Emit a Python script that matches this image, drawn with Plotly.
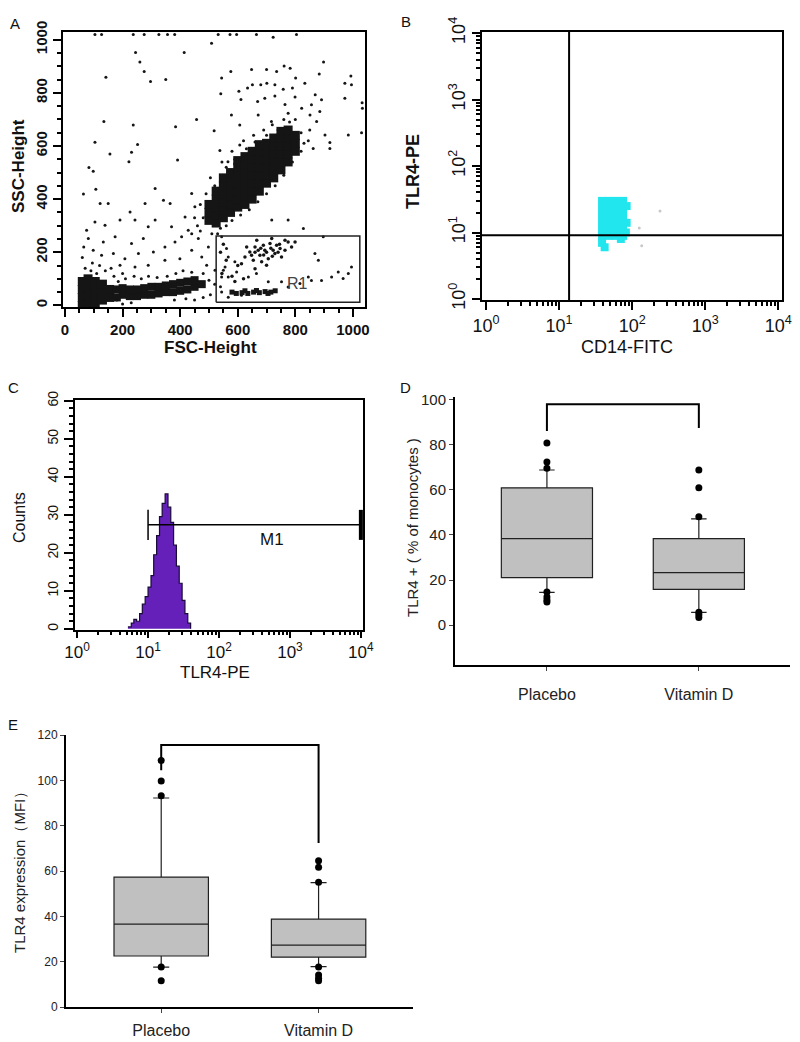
import plotly.graph_objects as go

W, H = 800, 1042
def fx(p): return p / W
def fy(p): return 1 - p / H

FONT = "Liberation Sans, Arial, sans-serif"

# ---------------- Panel A data (FSC-Height, SSC-Height) ----------------
gran_core_fsc = [500,500,500, 525,525,525,525,525, 550,550,550,550,550,550,
                 575,575,575,575,575,575, 600,600,600,600,600,600,600,
                 625,625,625,625,625,625,625, 650,650,650,650,650,650,650,
                 675,675,675,675,675,675,675, 700,700,700,700,700,700,
                 725,725,725,725,725,725, 750,750,750,750,750,750,
                 775,775,775,775,775, 800,800,800]
gran_core_ssc = [320,350,380, 310,340,370,400,430, 330,360,390,420,450,480,
                 350,380,410,440,470,500, 370,400,430,460,490,520,545,
                 380,410,440,470,500,530,560, 400,430,460,490,520,550,580,
                 430,460,490,520,550,580,605, 460,490,520,550,580,610,
                 480,510,540,570,600,630, 510,540,570,600,630,655,
                 540,570,600,630,660, 580,610,640]

debris_core_fsc = [60,60,60,60, 80,80,80,80, 105,105,105,105, 130,130,130, 155,155]
debris_core_ssc = [0,30,60,90, 10,40,70,100, 0,30,60,90, 20,50,80, 30,60]

band_core_fsc = [200,200,225,225,250,250,275,275,300,300,325,325,350,350,
                 375,375,400,400,425,425,450,450,475,180,180]
band_core_ssc = [40,65,35,60,35,60,40,65,40,70,45,70,50,75,
                 50,80,55,85,60,90,70,95,80,30,60]

r1_line_fsc = [595,615,635,655,675,695,715,730,625,665,705,580]
r1_line_ssc = [45,48,45,50,48,52,50,55,55,56,45,50]

mono_fsc = [625,642,660,677,694,712,729,747,764,775,683,654,706,613,752,787,718,666,
            689,648,735,799,700,631,671,723,660,764,700,690,715,740,680,660,720,745,
            540,550,560,545,580,600,590,620]
mono_ssc = [182,201,220,189,208,233,195,214,208,239,164,170,176,157,182,220,252,245,
            226,189,226,239,151,220,208,208,138,245,200,190,215,200,215,200,185,230,
            200,230,170,120,110,150,90,100]

sparse_fsc = [723,509,245,414,260,275,142,297,350,544,576,648,700,735,761,782,801,898,883,993,
              972,995,541,604,634,651,680,701,729,758,790,833,869,891,972,1032,1033,1030,135,237,
              384,457,518,611,669,694,729,764,799,822,856,885,578,607,671,717,775,851,874,903,
              984,920,862,920,104,156,231,252,222,83,98,391,538,607,566,608,
              104,127,237,275,326,356,381,532,573,596,665,804,
              64,107,122,150,104,139,75,191,226,243,278,313,342,365,313,289,272,231,174,133,
              81,98,127,168,208,255,307,347,382,405,370,417,440,451,428,463,440,475,498,399,
              347,289,243,191,492,521,544,556,596,637,665,706,752,775,816,856,891,926,949,984,
              995,966,845,828,868,880,897,775,718,544,561,567,590,544,567,613,567,550,
              470,480,460,510,540,490,520,560,590,630,660,700,740,780,820,830,820,790,760,730,
              700,670,640,610,580,560,530,845,850,800,760,720,690,655,620,580,545,505,470,450,440,
              170,185,160,200,140,120,95,70,60,65,180,170,210,240,265,290,320,355,385,410,
              440,480,500,520,540,505,480,450,420,380,230,200,110,90]
sparse_ssc = [1009,987,952,952,916,880,859,843,850,856,880,888,888,880,901,893,856,916,871,863,
              836,830,797,806,818,830,830,836,830,814,818,836,793,774,780,763,742,650,692,679,
              672,700,657,775,767,780,788,756,784,742,755,730,717,679,717,692,723,717,692,641,
              641,613,591,591,614,570,576,606,541,519,505,547,583,604,541,551,
              1020,1020,1020,1020,1020,1020,1020,1020,1020,1020,1020,1020,
              419,437,384,384,314,302,283,321,352,321,384,440,396,384,321,296,252,233,258,239,
              252,208,189,195,176,195,201,220,239,258,296,333,421,371,283,252,208,182,220,176,
              170,151,145,151,151,132,107,145,126,107,120,89,89,69,82,94,94,107,126,120,
              145,101,107,289,195,170,258,321,321,258,214,182,164,50,31,38,107,132,
              280,330,300,270,290,420,450,520,550,590,615,640,660,690,650,610,580,540,490,450,
              420,390,360,340,320,300,270,620,660,700,700,680,660,640,620,580,540,480,380,330,270,
              110,90,140,120,130,150,160,140,180,220,20,60,100,110,100,110,105,110,120,130,
              125,120,95,80,70,40,30,20,25,20,10,5,120,130]

r1_gate_fsc = [525, 1024]
r1_gate_ssc = [12, 261]
a_ticks = [0, 200, 400, 600, 800, 1000]

# ---------------- Panel B data (CD14-FITC vs TLR4-PE) ----------------
b_cd14 = [38.7,48.2,60.1,75.0, 38.7,48.2,60.1,75.0, 38.7,48.2,60.1,75.0,
          38.7,48.2,60.1,75.0, 38.7,48.2,60.1,75.0, 38.7,48.2,60.1,75.0,
          38.7,42.0,84.0,84.0,82.0,70.0]
b_tlr4 = [29.9,29.9,29.9,29.9, 23.4,23.4,23.4,23.4, 18.4,18.4,18.4,18.4,
          14.4,14.4,14.4,14.4, 11.3,11.3,11.3,11.3, 8.9,8.9,8.9,8.9,
          7.0,6.0,25.0,14.0,10.0,8.0]
b_faint_cd14 = [240, 125, 135]
b_faint_tlr4 = [21, 11.7, 6.3]
quad_cd14 = 13.7
quad_tlr4 = 9.1
decade_vals = [1, 10, 100, 1000, 10000]
decade_text = ["10<sup>0</sup>", "10<sup>1</sup>", "10<sup>2</sup>", "10<sup>3</sup>", "10<sup>4</sup>"]
minor_log = [m * d for d in [1, 10, 100, 1000] for m in range(2, 10)]

# ---------------- Panel C data (histogram) ----------------
hist_tlr4 = [5.2, 5.8, 6.3, 6.9, 7.6, 8.3, 9.1, 10.0, 11.0, 12.0, 13.2, 14.5,
             15.8, 17.4, 19.1, 20.9, 22.9, 25.1, 27.5, 30.2, 33.1, 36.3, 39.8]
hist_counts = [0.5, 1.5, 2.5, 2.0, 4.0, 6.5, 8.5, 11, 14, 19.5, 24.5, 29.5,
               33, 35.5, 32, 28, 22, 16.5, 12, 7.5, 4, 1.5, 0]
m1_range = [10, 10000]
m1_level = 27.4
m1_tick = [23.4, 31.3]

# ---------------- Panel D / E data (box plots) ----------------
groups = ["Placebo", "Vitamin D"]
d_q1 = [21.1, 15.9]
d_median = [38.3, 23.3]
d_q3 = [60.8, 38.3]
d_low = [14.5, 5.7]
d_high = [68.7, 47.1]
d_out_group = ["Placebo"]*7 + ["Vitamin D"]*6
d_out_vals = [80.6, 72.2, 69.5, 14.7, 12.5, 11.2, 10.3, 68.7, 60.8, 48.0, 5.7, 4.6, 3.4]
d_bracket_y = [86.0, 97.8, 97.8, 87.3]

e_q1 = [22.5, 22.0]
e_median = [36.6, 27.3]
e_q3 = [57.3, 38.8]
e_low = [17.6, 17.8]
e_high = [92.2, 54.9]
e_out_group = ["Placebo"]*5 + ["Vitamin D"]*7
e_out_vals = [108.7, 99.7, 93.2, 17.6, 11.6, 64.5, 61.6, 55.0, 17.6, 14.1, 12.7, 11.6]
e_bracket_y = [104.5, 115.6, 115.6, 72.3]

fig = go.Figure()

# ---- Panel A traces
dark = "#151515"
fig.add_trace(go.Scatter(x=gran_core_fsc, y=gran_core_ssc, mode="markers",
                         marker=dict(size=9, color=dark, symbol="square"), xaxis="x", yaxis="y"))
fig.add_trace(go.Scatter(x=debris_core_fsc, y=debris_core_ssc, mode="markers",
                         marker=dict(size=9, color=dark, symbol="square"), xaxis="x", yaxis="y"))
fig.add_trace(go.Scatter(x=band_core_fsc, y=band_core_ssc, mode="markers",
                         marker=dict(size=8, color=dark, symbol="square"), xaxis="x", yaxis="y"))
fig.add_trace(go.Scatter(x=r1_line_fsc, y=r1_line_ssc, mode="markers",
                         marker=dict(size=5, color=dark, symbol="square"), xaxis="x", yaxis="y"))
fig.add_trace(go.Scatter(x=mono_fsc, y=mono_ssc, mode="markers",
                         marker=dict(size=3.5, color=dark), xaxis="x", yaxis="y"))
fig.add_trace(go.Scatter(x=sparse_fsc, y=sparse_ssc, mode="markers",
                         marker=dict(size=3, color=dark), xaxis="x", yaxis="y"))
fig.add_trace(go.Scatter(x=[r1_gate_fsc[0], r1_gate_fsc[1], r1_gate_fsc[1], r1_gate_fsc[0], r1_gate_fsc[0]],
                         y=[r1_gate_ssc[0], r1_gate_ssc[0], r1_gate_ssc[1], r1_gate_ssc[1], r1_gate_ssc[0]],
                         mode="lines", line=dict(color="#222", width=1.5), xaxis="x", yaxis="y"))

# ---- Panel B traces
fig.add_trace(go.Scatter(x=b_cd14, y=b_tlr4, mode="markers",
                         marker=dict(size=8, color="#22e6ee", symbol="square"), xaxis="x2", yaxis="y2"))
fig.add_trace(go.Scatter(x=b_faint_cd14, y=b_faint_tlr4, mode="markers",
                         marker=dict(size=3, color="#c8c8c8"), xaxis="x2", yaxis="y2"))
fig.add_trace(go.Scatter(x=[quad_cd14, quad_cd14], y=[0.96, 10400], mode="lines",
                         line=dict(color="black", width=2), xaxis="x2", yaxis="y2"))
fig.add_trace(go.Scatter(x=[0.88, 11200], y=[quad_tlr4, quad_tlr4], mode="lines",
                         line=dict(color="black", width=2), xaxis="x2", yaxis="y2"))

# ---- Panel C traces
fig.add_trace(go.Scatter(x=hist_tlr4, y=hist_counts, mode="lines", line_shape="hv",
                         fill="tozeroy", fillcolor="#6420b8",
                         line=dict(color="#1a0a3a", width=1.2), xaxis="x3", yaxis="y3"))
fig.add_trace(go.Scatter(x=m1_range, y=[m1_level, m1_level], mode="lines",
                         line=dict(color="black", width=1.5), xaxis="x3", yaxis="y3"))
fig.add_trace(go.Scatter(x=[m1_range[0], m1_range[0]], y=m1_tick, mode="lines",
                         line=dict(color="black", width=1.5), xaxis="x3", yaxis="y3"))
fig.add_trace(go.Scatter(x=[m1_range[1], m1_range[1]], y=m1_tick, mode="lines",
                         line=dict(color="black", width=4), xaxis="x3", yaxis="y3", cliponaxis=False))

# ---- Panel D / E box plots
def add_box(q1, med, q3, lo, hi, ax, ay):
    for i, g in enumerate(groups):
        fig.add_trace(go.Box(x=[g], q1=[q1[i]], median=[med[i]], q3=[q3[i]],
                             lowerfence=[lo[i]], upperfence=[hi[i]], boxpoints=False,
                             width=0.6, whiskerwidth=0.17, fillcolor="#c0c0c0",
                             line=dict(color="#202020", width=1.2), xaxis=ax, yaxis=ay))

add_box(d_q1, d_median, d_q3, d_low, d_high, "x4", "y4")
fig.add_trace(go.Scatter(x=d_out_group, y=d_out_vals, mode="markers",
                         marker=dict(size=7, color="black"), xaxis="x4", yaxis="y4"))
fig.add_trace(go.Scatter(x=[groups[0], groups[0], groups[1], groups[1]], y=d_bracket_y, mode="lines",
                         line=dict(color="black", width=2), xaxis="x4", yaxis="y4"))

add_box(e_q1, e_median, e_q3, e_low, e_high, "x5", "y5")
fig.add_trace(go.Scatter(x=e_out_group, y=e_out_vals, mode="markers",
                         marker=dict(size=7, color="black"), xaxis="x5", yaxis="y5"))
fig.add_trace(go.Scatter(x=[groups[0], groups[0], groups[1], groups[1]], y=e_bracket_y, mode="lines",
                         line=dict(color="black", width=2), xaxis="x5", yaxis="y5"))

# ---- axes
frame = dict(showline=True, linecolor="black", linewidth=2, mirror=True, showgrid=False,
             zeroline=False, ticks="outside", tickcolor="black", automargin=False)

tickA = dict(family=FONT, size=15, color="#111", weight="bold")
tickBC = dict(family=FONT, size=18, color="#111")

fig.update_layout(
    width=W, height=H, margin=dict(l=0, r=0, t=0, b=0, pad=0, autoexpand=False),
    paper_bgcolor="white", plot_bgcolor="white", showlegend=False,
    xaxis=dict(domain=[fx(63), fx(365)], anchor="y", range=[-7, 1042],
               tickvals=a_ticks, ticklen=8, tickwidth=1.5, tickfont=tickA,
               minor=dict(dtick=50, tick0=0, ticks="outside", ticklen=4, tickcolor="black"), **frame),
    yaxis=dict(domain=[fy(307), fy(32)], anchor="x", range=[-6, 1029],
               tickvals=a_ticks, ticklen=8, tickwidth=1.5, tickfont=tickA, tickangle=-90,
               minor=dict(dtick=50, tick0=0, ticks="outside", ticklen=4, tickcolor="black"), **frame),
    xaxis2=dict(domain=[fx(482), fx(782)], anchor="y2", type="log", range=[-0.055, 4.05],
                tickvals=decade_vals, ticktext=decade_text, ticklen=8, tickwidth=1.5, tickfont=tickBC,
                minor=dict(tickvals=minor_log, ticks="outside", ticklen=4, tickcolor="black"), **frame),
    yaxis2=dict(domain=[fy(300), fy(32)], anchor="x2", type="log", range=[-0.015, 4.016],
                tickvals=decade_vals, ticktext=decade_text, ticklen=8, tickwidth=1.5, tickfont=tickBC,
                tickangle=-90,
                minor=dict(tickvals=minor_log, ticks="outside", ticklen=4, tickcolor="black"), **frame),
    xaxis3=dict(domain=[fx(75), fx(363)], anchor="y3", type="log", range=[-0.03, 4.03],
                tickvals=decade_vals, ticktext=decade_text, ticklen=6, tickwidth=1.5,
                tickfont=dict(family=FONT, size=17, color="#111"),
                minor=dict(tickvals=minor_log, ticks="outside", ticklen=3, tickcolor="black"), **frame),
    yaxis3=dict(domain=[fy(630), fy(400)], anchor="x3", range=[-0.3, 60.2],
                tickvals=[0, 10, 20, 30, 40, 50, 60], ticklen=9, tickwidth=1.5,
                tickfont=dict(family=FONT, size=14, color="#111"), tickangle=-90,
                minor=dict(dtick=2, tick0=0, ticks="outside", ticklen=4, tickcolor="black"), **frame),
    xaxis4=dict(domain=[fx(455), fx(790)], anchor="y4", range=[-0.605, 1.6], automargin=False,
                categoryorder="array", categoryarray=groups, showline=True, linecolor="black",
                linewidth=2, ticks="outside", ticklen=4, tickcolor="#444", showgrid=False,
                ticklabelstandoff=10, tickfont=dict(family=FONT, size=16, color="#222")),
    yaxis4=dict(domain=[fy(665), fy(397)], anchor="x4", range=[-17.6, 101], automargin=False,
                tickvals=[0, 20, 40, 60, 80, 100], showline=True, linecolor="black", linewidth=2,
                ticks="outside", ticklen=4, tickcolor="#444", showgrid=False, zeroline=False,
                tickfont=dict(family=FONT, size=15, color="#222")),
    xaxis5=dict(domain=[fx(66), fx(413)], anchor="y5", range=[-0.605, 1.6], automargin=False,
                categoryorder="array", categoryarray=groups, showline=True, linecolor="black",
                linewidth=2, ticks="outside", ticklen=4, tickcolor="#444", showgrid=False,
                ticklabelstandoff=4, tickfont=dict(family=FONT, size=16, color="#222")),
    yaxis5=dict(domain=[fy(1007), fy(735)], anchor="x5", range=[0, 120], automargin=False,
                tickvals=[0, 20, 40, 60, 80, 100, 120], showline=True, linecolor="black", linewidth=2,
                ticks="outside", ticklen=4, tickcolor="#444", showgrid=False, zeroline=False,
                tickfont=dict(family=FONT, size=12, color="#222")),
)

def label(text, x, y, size, angle=0, color="#111", weight="normal"):
    fig.add_annotation(text=text, x=fx(x), y=fy(y), xref="paper", yref="paper",
                       showarrow=False, textangle=angle, xanchor="center", yanchor="middle",
                       font=dict(family=FONT, size=size, color=color, weight=weight))

# panel letters
label("A", 15, 24, 15)
label("B", 406, 21, 15)
label("C", 13, 387, 15)
label("D", 405, 387, 15)
label("E", 13, 724, 15)

# axis titles
label("FSC-Height", 210, 347, 17, weight="bold")
label("SSC-Height", 19, 166, 17, angle=-90, weight="bold")
label("CD14-FITC", 627, 347, 18)
label("TLR4-PE", 413, 172, 18, angle=-90, weight="bold")
label("TLR4-PE", 215, 672, 17)
label("Counts", 19, 518, 16, angle=-90)
label("TLR4 + ( % of monocytes )", 412, 528, 15, angle=-90, color="#222")
label("TLR4 expression（MFI）", 19, 869, 15, angle=-90, color="#222")

# in-plot texts
fig.add_annotation(text="R1", x=809, y=81, xref="x", yref="y", showarrow=False,
                   font=dict(family=FONT, size=16, color="#444"))
fig.add_annotation(text="M1", x=2.75, y=23.5, xref="x3", yref="y3", showarrow=False,
                   font=dict(family=FONT, size=17, color="#111"))
fig.add_annotation(text="P<0.05", x=0.55, y=105, xref="x4", yref="y4", showarrow=False,
                   font=dict(family=FONT, size=16, color="#222"))
fig.add_annotation(text="P <0.05", x=0.49, y=122.5, xref="x5", yref="y5", showarrow=False,
                   font=dict(family=FONT, size=18, color="#222"))

fig.write_html("out.html", config={"displayModeBar": False},
               post_script="document.body.style.margin='0px';")
